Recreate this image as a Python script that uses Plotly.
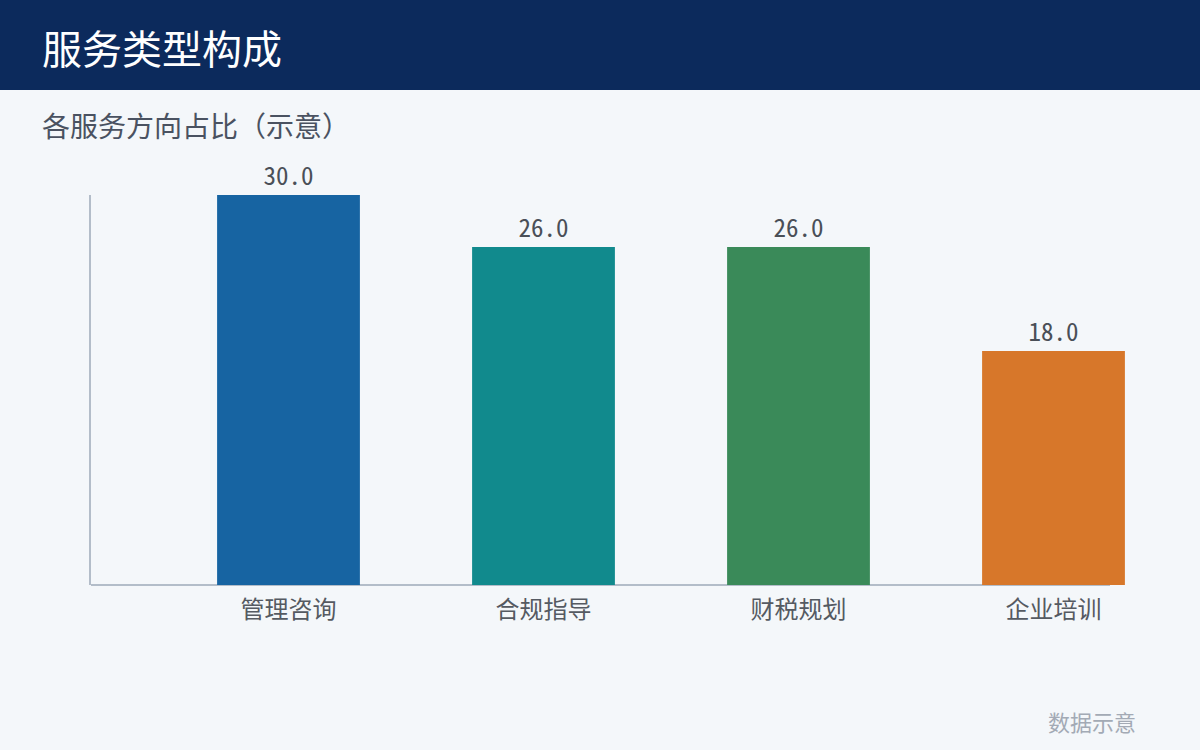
import plotly.graph_objects as go

categories = ["管理咨询", "合规指导", "财税规划", "企业培训"]
values = [30.0, 26.0, 26.0, 18.0]
colors = ["#1764a2", "#118a8d", "#3a8a59", "#d7772a"]

W, H = 1200, 750
FONT = "Noto Sans CJK SC, Noto Sans, sans-serif"

fig = go.Figure()
fig.add_trace(go.Bar(
    x=categories, y=values,
    marker=dict(color=colors, line=dict(width=0)),
    width=0.56,
    text=[f"{v:.1f}" for v in values],
    textposition="outside",
    textfont=dict(family="Noto Sans Mono CJK SC, Noto Sans CJK SC, monospace", size=25, color="#4a4f57"),
    cliponaxis=False,
    hoverinfo="skip",
))

plot_left, plot_right_axis, plot_right = 91, 1110, 1180
plot_top, plot_bottom = 195, 585
unit = 255.0
x0 = -(288.5 - plot_left) / unit
x1 = x0 + (plot_right - plot_left) / unit

fig.update_layout(
    width=W, height=H,
    margin=dict(l=0, r=0, t=0, b=0),
    paper_bgcolor="#f4f7fa", plot_bgcolor="rgba(0,0,0,0)",
    showlegend=False,
    font=dict(family=FONT),
    uniformtext=dict(mode=False),
    xaxis=dict(
        domain=[plot_left / W, plot_right / W],
        range=[x0, x1], type="category",
        showline=False, showgrid=False, zeroline=False,
        ticks="", tickfont=dict(family=FONT, size=24, color="#555a62"),
        ticklabelstandoff=8,
        fixedrange=True,
    ),
    yaxis=dict(
        domain=[1 - plot_bottom / H, 1 - plot_top / H],
        range=[0, 30],
        showline=True, linecolor="#b3bdc9", linewidth=2,
        showgrid=False, zeroline=False, showticklabels=False, ticks="",
        fixedrange=True,
    ),
    shapes=[
        dict(type="rect", xref="paper", yref="paper", x0=0, x1=1, y0=1 - 90 / H, y1=1,
             fillcolor="#0c2a5c", line=dict(width=0), layer="below"),
        dict(type="line", xref="paper", yref="paper",
             x0=plot_left / W, x1=plot_right_axis / W,
             y0=1 - plot_bottom / H, y1=1 - plot_bottom / H,
             line=dict(color="#b3bdc9", width=2), layer="below"),
    ],
    annotations=[
        dict(text="服务类型构成", xref="paper", yref="paper", x=40 / W, y=1 - 47 / H,
             xanchor="left", yanchor="middle", showarrow=False,
             font=dict(family=FONT, size=40, color="#ffffff")),
        dict(text="各服务方向占比（示意）", xref="paper", yref="paper", x=40 / W, y=1 - 125 / H,
             xanchor="left", yanchor="middle", showarrow=False,
             font=dict(family=FONT, size=28, color="#4a5261")),
        dict(text="数据示意", xref="paper", yref="paper", x=1138 / W, y=1 - 721 / H,
             xanchor="right", yanchor="middle", showarrow=False,
             font=dict(family=FONT, size=22, color="#a3aab5")),
    ],
)

fig.write_html("out.html", config={"displayModeBar": False},
               post_script="document.body.style.margin='0';")
